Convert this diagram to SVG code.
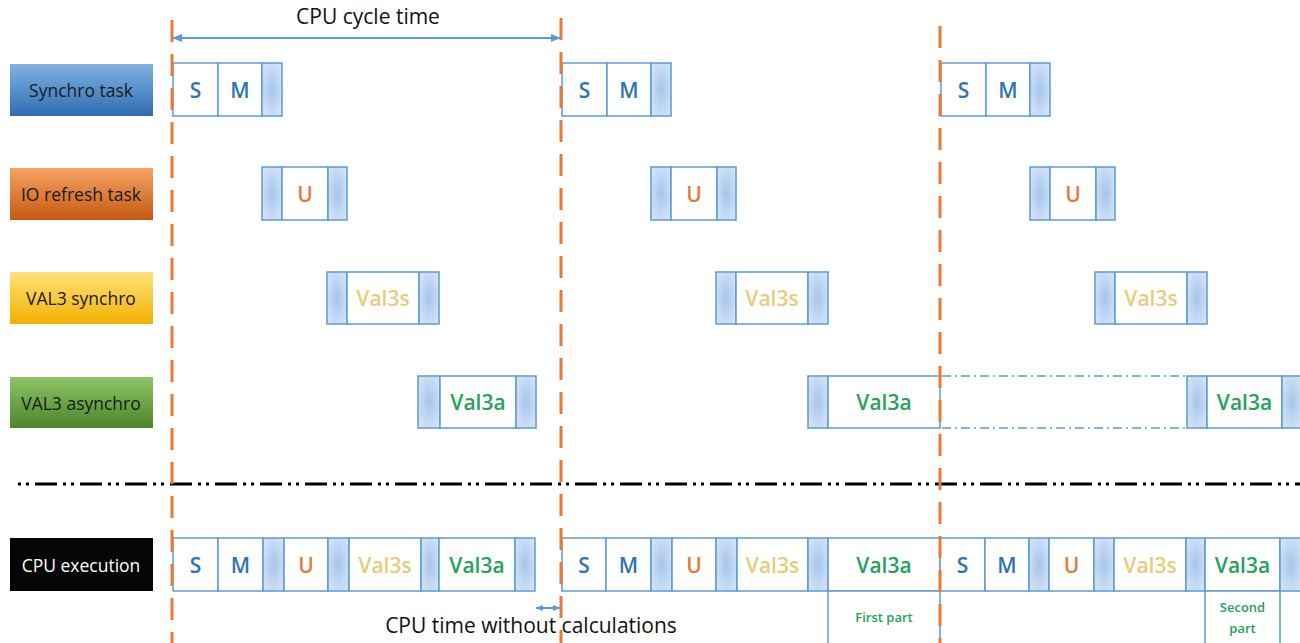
<svg xmlns="http://www.w3.org/2000/svg" width="1300" height="643" viewBox="0 0 1300 643">
<defs>
<radialGradient id="shade" cx="0.5" cy="0.5" r="0.6">
<stop offset="0" stop-color="#a6c5ec"/>
<stop offset="1" stop-color="#d3e3f6"/>
</radialGradient>
<linearGradient id="gBlue" x1="0" y1="0" x2="0" y2="1"><stop offset="0" stop-color="#7fb2e3"/><stop offset="1" stop-color="#2f6db0"/></linearGradient>
<linearGradient id="gOrange" x1="0" y1="0" x2="0" y2="1"><stop offset="0" stop-color="#f6a262"/><stop offset="1" stop-color="#c55a11"/></linearGradient>
<linearGradient id="gYellow" x1="0" y1="0" x2="0" y2="1"><stop offset="0" stop-color="#ffe27a"/><stop offset="1" stop-color="#f2b100"/></linearGradient>
<linearGradient id="gGreen" x1="0" y1="0" x2="0" y2="1"><stop offset="0" stop-color="#8dc466"/><stop offset="1" stop-color="#4a862b"/></linearGradient>
<marker id="ah" viewBox="0 0 10 10" refX="9" refY="5" markerWidth="10" markerHeight="10" orient="auto-start-reverse" markerUnits="userSpaceOnUse"><path d="M0,1 L10,5 L0,9 z" fill="#5b9bd5"/></marker>
<marker id="ahs" viewBox="0 0 10 10" refX="9" refY="5" markerWidth="8" markerHeight="8" orient="auto-start-reverse" markerUnits="userSpaceOnUse"><path d="M0,1 L10,5 L0,9 z" fill="#5b9bd5"/></marker>
</defs>
<style>
.w{fill:#fff;stroke:#5b9bd5;stroke-width:1.5}
.sh{fill:url(#shade);stroke:#5b9bd5;stroke-width:1.5}
.t{font-family:"Open Sans","Liberation Sans",sans-serif;font-size:21px;font-weight:600;text-anchor:middle;dominant-baseline:central}
.cS{fill:#2e75b6}.cU{fill:#e07b3c}.cVs{fill:#e8cc7a}.cVa{fill:#23a35c}
.lab{font-family:"Open Sans","Liberation Sans",sans-serif;font-size:17.5px;text-anchor:middle;dominant-baseline:central;fill:#1a1a1a}
.small{font-family:"Open Sans","Liberation Sans",sans-serif;font-size:13px;font-weight:600;text-anchor:middle;dominant-baseline:central;fill:#23a35c}
.cap{font-family:"Open Sans","Liberation Sans",sans-serif;font-size:21px;fill:#111;text-anchor:middle}
.orange{stroke:#e97a33;stroke-width:3;stroke-dasharray:22 12;fill:none}
.dd{stroke:#5b9bd5;stroke-width:1.3;stroke-dasharray:9 4 2 4;fill:none}
.arr{stroke:#5b9bd5;stroke-width:2;fill:none}
</style>

<g id="labels">
<g id="lbl-synchro"><rect x="10" y="64" width="143" height="52" fill="url(#gBlue)"/><text class="lab" x="81" y="90">Synchro task</text></g>
<g id="lbl-io"><rect x="10" y="168" width="143" height="52" fill="url(#gOrange)"/><text class="lab" x="81" y="194">IO refresh task</text></g>
<g id="lbl-val3s"><rect x="10" y="272" width="143" height="52" fill="url(#gYellow)"/><text class="lab" x="81" y="298">VAL3 synchro</text></g>
<g id="lbl-val3a"><rect x="10" y="377" width="143" height="51" fill="url(#gGreen)"/><text class="lab" x="81" y="403">VAL3 asynchro</text></g>
<g id="lbl-cpu"><rect x="10" y="538" width="143" height="53" fill="#050505"/><text class="lab" x="81" y="565" style="fill:#fff">CPU execution</text></g>
</g>

<g id="synchro-row">
<g id="sync1"><rect class="w" x="173" y="63" width="45" height="53"/><rect class="w" x="218" y="63" width="44" height="53"/><rect class="sh" x="262" y="63" width="20" height="53"/><text class="t cS" x="195.5" y="89.5">S</text><text class="t cS" x="240" y="89.5">M</text></g>
<g id="sync2"><rect class="w" x="562" y="63" width="45" height="53"/><rect class="w" x="607" y="63" width="44" height="53"/><rect class="sh" x="651" y="63" width="20" height="53"/><text class="t cS" x="584.5" y="89.5">S</text><text class="t cS" x="629" y="89.5">M</text></g>
<g id="sync3"><rect class="w" x="941" y="63" width="45" height="53"/><rect class="w" x="986" y="63" width="44" height="53"/><rect class="sh" x="1030" y="63" width="20" height="53"/><text class="t cS" x="963.5" y="89.5">S</text><text class="t cS" x="1008" y="89.5">M</text></g>
</g>

<g id="io-row">
<g id="io1"><rect class="sh" x="262" y="167" width="20" height="53"/><rect class="w" x="282" y="167" width="46" height="53"/><rect class="sh" x="328" y="167" width="19" height="53"/><text class="t cU" x="305" y="193.5">U</text></g>
<g id="io2"><rect class="sh" x="651" y="167" width="20" height="53"/><rect class="w" x="671" y="167" width="46" height="53"/><rect class="sh" x="717" y="167" width="19" height="53"/><text class="t cU" x="694" y="193.5">U</text></g>
<g id="io3"><rect class="sh" x="1030" y="167" width="20" height="53"/><rect class="w" x="1050" y="167" width="46" height="53"/><rect class="sh" x="1096" y="167" width="19" height="53"/><text class="t cU" x="1073" y="193.5">U</text></g>
</g>

<g id="val3s-row">
<g id="vs1"><rect class="sh" x="327" y="272" width="20" height="52"/><rect class="w" x="347" y="272" width="72" height="52"/><rect class="sh" x="419" y="272" width="20" height="52"/><text class="t cVs" x="383" y="298">Val3s</text></g>
<g id="vs2"><rect class="sh" x="716" y="272" width="20" height="52"/><rect class="w" x="736" y="272" width="72" height="52"/><rect class="sh" x="808" y="272" width="20" height="52"/><text class="t cVs" x="772" y="298">Val3s</text></g>
<g id="vs3"><rect class="sh" x="1095" y="272" width="20" height="52"/><rect class="w" x="1115" y="272" width="72" height="52"/><rect class="sh" x="1187" y="272" width="20" height="52"/><text class="t cVs" x="1151" y="298">Val3s</text></g>
</g>

<g id="val3a-row">
<g id="va1"><rect class="sh" x="418" y="376" width="22" height="52"/><rect class="w" x="440" y="376" width="76" height="52"/><rect class="sh" x="516" y="376" width="20" height="52"/><text class="t cVa" x="478" y="402">Val3a</text></g>
<g id="va2"><rect class="sh" x="808" y="376" width="20" height="52"/><rect class="w" x="828" y="376" width="112" height="52"/><text class="t cVa" x="884" y="402">Val3a</text></g>
<g id="va-gap"><line class="dd" x1="942" y1="376" x2="1187" y2="376"/><line class="dd" x1="942" y1="428" x2="1187" y2="428"/></g>
<g id="va3"><rect class="sh" x="1187" y="376" width="20" height="52"/><rect class="w" x="1207" y="376" width="75" height="52"/><rect class="sh" x="1282" y="376" width="20" height="52"/><text class="t cVa" x="1244.5" y="402">Val3a</text></g>
</g>

<g id="cpu-row">
<g id="cpu1">
<rect class="w" x="173" y="538" width="45" height="53"/><rect class="w" x="218" y="538" width="45" height="53"/><rect class="sh" x="263" y="538" width="21" height="53"/><rect class="w" x="284" y="538" width="44" height="53"/><rect class="sh" x="328" y="538" width="21" height="53"/><rect class="w" x="349" y="538" width="72" height="53"/><rect class="sh" x="421" y="538" width="18" height="53"/><rect class="w" x="439" y="538" width="76" height="53"/><rect class="sh" x="515" y="538" width="20" height="53"/>
<text class="t cS" x="195.5" y="564.5">S</text><text class="t cS" x="240.5" y="564.5">M</text><text class="t cU" x="306" y="564.5">U</text><text class="t cVs" x="385" y="564.5">Val3s</text><text class="t cVa" x="477" y="564.5">Val3a</text>
</g>
<g id="cpu2">
<rect class="w" x="562" y="538" width="44" height="53"/><rect class="w" x="606" y="538" width="45" height="53"/><rect class="sh" x="651" y="538" width="21" height="53"/><rect class="w" x="672" y="538" width="44" height="53"/><rect class="sh" x="716" y="538" width="21" height="53"/><rect class="w" x="737" y="538" width="71" height="53"/><rect class="sh" x="808" y="538" width="20" height="53"/><rect class="w" x="828" y="538" width="112" height="53"/>
<text class="t cS" x="584" y="564.5">S</text><text class="t cS" x="628.5" y="564.5">M</text><text class="t cU" x="694" y="564.5">U</text><text class="t cVs" x="772.5" y="564.5">Val3s</text><text class="t cVa" x="884" y="564.5">Val3a</text>
</g>
<g id="cpu3">
<rect class="w" x="940" y="538" width="45" height="53"/><rect class="w" x="985" y="538" width="44" height="53"/><rect class="sh" x="1029" y="538" width="20" height="53"/><rect class="w" x="1049" y="538" width="45" height="53"/><rect class="sh" x="1094" y="538" width="20" height="53"/><rect class="w" x="1114" y="538" width="72" height="53"/><rect class="sh" x="1186" y="538" width="19" height="53"/><rect class="w" x="1205" y="538" width="75" height="53"/><rect class="sh" x="1280" y="538" width="22" height="53"/>
<text class="t cS" x="962.5" y="564.5">S</text><text class="t cS" x="1007" y="564.5">M</text><text class="t cU" x="1071.5" y="564.5">U</text><text class="t cVs" x="1150" y="564.5">Val3s</text><text class="t cVa" x="1242.5" y="564.5">Val3a</text>
</g>
<g id="first-part"><rect class="w" x="828" y="591" width="112" height="54"/><text class="small" x="884" y="617">First part</text></g>
<g id="second-part"><rect class="w" x="1205" y="591" width="75" height="54"/><text class="small" x="1242.5" y="607">Second</text><text class="small" x="1242.5" y="628">part</text></g>
</g>

<g id="connectors">
<line x1="18" y1="484" x2="1300" y2="484" stroke="#000" stroke-width="3" stroke-dasharray="3 5 3 6 22 6"/>
<line class="orange" x1="172" y1="20" x2="172" y2="643"/>
<line class="orange" x1="561" y1="18" x2="561" y2="643"/>
<line class="orange" x1="940" y1="26" x2="940" y2="643"/>
<line class="arr" x1="173" y1="38" x2="560" y2="38" marker-start="url(#ah)" marker-end="url(#ah)"/>
<line class="arr" x1="536" y1="608" x2="560" y2="608" stroke-width="1.5" marker-start="url(#ahs)" marker-end="url(#ahs)"/>
</g>

<g id="captions">
<text class="cap" x="368" y="24">CPU cycle time</text>
<text class="cap" x="531" y="633">CPU time without calculations</text>
</g>
</svg>
